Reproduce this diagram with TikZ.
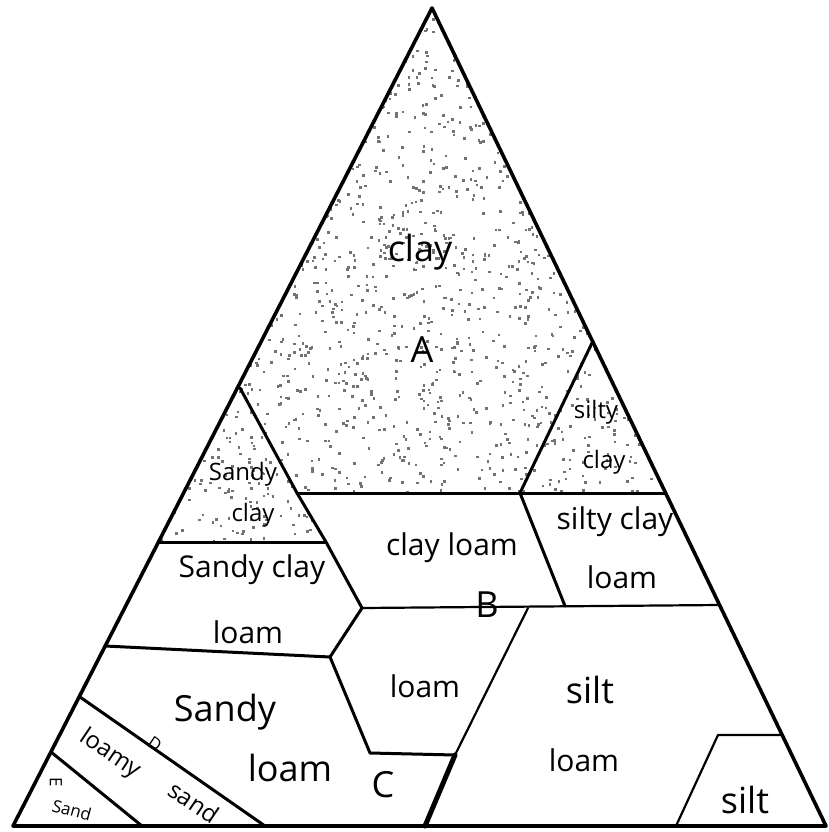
\documentclass[tikz,border=0pt]{standalone}
\usepackage{fontspec}
\setmainfont{Open Sans}
\begin{document}
\begin{tikzpicture}[x=1pt,y=-1pt,
  edge/.style={line width=3.6pt,line join=round,line cap=round},
  part/.style={line width=3pt,line join=round,line cap=round},
  thin part/.style={line width=2.2pt,line join=round,line cap=round},
  big/.style={font=\fontsize{36}{40}\selectfont,inner sep=0pt},
  mid/.style={font=\fontsize{30}{34}\selectfont,inner sep=0pt},
  small/.style={font=\fontsize{24}{26}\selectfont,inner sep=0pt},
  tiny/.style={font=\fontsize{17}{19}\selectfont,inner sep=0pt}]
\useasboundingbox (0,0) rectangle (829,832);
\fill[white] (0,0) rectangle (829,832);
% corner and boundary points
\coordinate (T) at (432,8);
\coordinate (L) at (13,826);
\coordinate (R) at (826,826);
\coordinate (p1) at (240,388);
\coordinate (p2) at (297,493);
\coordinate (p3) at (520,493);
\coordinate (p4) at (592,343);
\coordinate (p5) at (665,493);
\coordinate (p6) at (158,542);
\coordinate (p7) at (326,542);
\coordinate (p8) at (362,608);
\coordinate (p9) at (565,606);
\coordinate (p10) at (720,605);
\coordinate (p11) at (105,646);
\coordinate (p12) at (330,657);
\coordinate (p13) at (528,608);
\coordinate (p14) at (370,753);
\coordinate (p15) at (455,755);
\coordinate (p16) at (425,826);
\coordinate (p17) at (80,697);
\coordinate (p18) at (265,826);
\coordinate (p19) at (51,752);
\coordinate (p20) at (142,826);
\coordinate (p21) at (718,735);
\coordinate (p22) at (782,735);
\coordinate (p23) at (676,826);
% stippled clay regions
\begin{scope}
  \clip (T) -- (p6) -- (p7) -- (p2) -- (p5) -- cycle;
  \pgfmathsetseed{7}
  \foreach \i in {1,...,2200}{
    \pgfmathsetmacro\xx{150+rnd*520}
    \pgfmathsetmacro\yy{8+rnd*540}
    \fill[black!55] (\xx,\yy) rectangle ++(2.6,2.6);
  }
\end{scope}
% region boundaries
\draw[part] (p1) -- (p2) -- (p7) -- (p8);
\draw[part] (p2) -- (p5);
\draw[part] (p4) -- (p3) -- (p9);
\draw[part] (p6) -- (p7);
\draw[thin part] (p8) -- (p10);
\draw[part] (p11) -- (p12);
\draw[part] (p8) -- (p12) -- (p14) -- (p15);
\draw[thin part] (p13) -- (p15);
\draw[line width=5pt,line cap=round] (p15) -- (p16);
\draw[part] (p17) -- (p18);
\draw[part] (p19) -- (p20);
\draw[thin part] (p23) -- (p21) -- (p22);
% outer triangle
\draw[edge] (T) -- (L) -- (R) -- cycle;
% labels
\node[big] (clay) at (420,252) {clay};
\node[big] (A) at (422,350) {A};
\node[small] (sc1) at (596,412) {silty};
\node[small] (sc2) at (604,462) {clay};
\node[small] (sac1) at (243,474) {Sandy};
\node[small] (sac2) at (253,515) {clay};
\node[mid] (cl) at (452,548) {clay loam};
\node[mid] (scl1) at (615,522) {silty clay};
\node[mid] (scl2) at (622,577) {loam};
\node[mid] (sacl1) at (252,570) {Sandy clay};
\node[mid] (sacl2) at (248,632) {loam};
\node[big] (B) at (487,605) {B};
\node[mid] (lo) at (425,686) {loam};
\node[big] (si1) at (590,690) {silt};
\node[mid] (si2) at (584,760) {loam};
\node[big] (sl1) at (225,712) {Sandy};
\node[big] (sl2) at (290,768) {loam};
\node[big] (C) at (383,785) {C};
\node[big] (si) at (745,800) {silt};
\node[small,rotate=-34] (ls1) at (110,754) {loamy};
\node[small,rotate=-34] (ls2) at (194,802) {sand};
\node[tiny,rotate=-34] (D) at (155,744) {D};
\node[tiny,rotate=-90] (E) at (56,782) {E};
\node[tiny,rotate=-15] (sa) at (72,810) {Sand};
\end{tikzpicture}
\end{document}
